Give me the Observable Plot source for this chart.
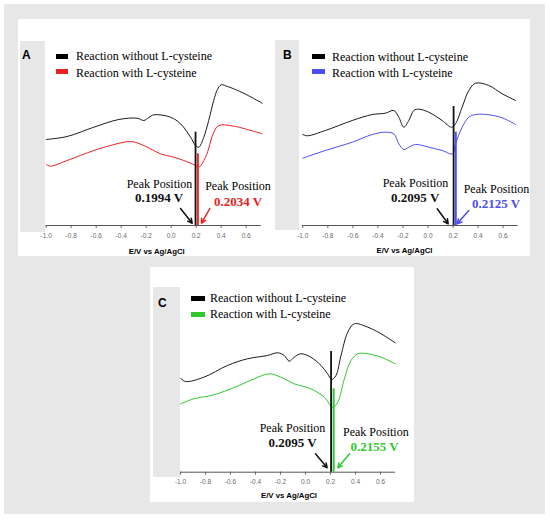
<!DOCTYPE html>
<html><head><meta charset="utf-8">
<script src="https://cdn.jsdelivr.net/npm/d3@7"></script>
<script src="https://cdn.jsdelivr.net/npm/@observablehq/plot@0.6"></script>
<style>
body{margin:0;background:#fff;}
#fig{position:relative;width:550px;height:520px;background:#fff;overflow:hidden;}
.abs{position:absolute;}
.plot svg{overflow:visible;}
.lg{position:absolute;font-family:"Liberation Serif","Times New Roman",serif;font-size:12px;line-height:12px;color:#000;white-space:nowrap;}
.let{position:absolute;font-family:"Liberation Sans",Arial,sans-serif;font-weight:bold;font-size:12px;line-height:12px;color:#000;}
</style>
</head><body>
<div id="fig"></div>
<script>
// ---------- data ----------
const xTicks = [-1.0, -0.8, -0.6, -0.4, -0.2, 0.0, 0.2, 0.4, 0.6];
const seriesLabels = ["Reaction without L-cysteine", "Reaction with L-cysteine"];
const axisLabel = "E/V vs Ag/AgCl";
const peakLabel = "Peak Position";
const panelLetters = ["A", "B", "C"];

// Panel A (current, a.u. above baseline)
const aBlackX = [-1.0, -0.832, -0.619, -0.419, -0.272, -0.219, -0.179, -0.139, -0.005, 0.075, 0.155, 0.195, 0.221, 0.26, 0.30, 0.34, 0.37, 0.40, 0.45, 0.50, 0.60, 0.728];
const aBlackY = [86, 89, 98.3, 106, 107.3, 105, 108, 110.7, 108.3, 101.7, 88.3, 80, 78.3, 88, 105, 125, 136, 140.7, 139, 136.7, 131, 122.3];
const aRedX = [-1.0, -0.966, -0.832, -0.619, -0.485, -0.325, -0.219, -0.085, 0.021, 0.101, 0.195, 0.221, 0.275, 0.341, 0.381, 0.501, 0.728];
const aRedY = [61, 59.3, 65, 75, 80, 84, 80, 71.7, 68.3, 65, 60, 58.3, 68.3, 93.3, 100, 99.3, 91.7];
const aPeaks = [0.1994, 0.2034];
const aPeakTop = [93.3, 71.7];

// Panel B
const bBlackX = [-1.0, -0.965, -0.82, -0.605, -0.445, -0.34, -0.273, -0.233, -0.193, -0.153, -0.113, -0.073, 0.006, 0.113, 0.188, 0.22, 0.273, 0.326, 0.38, 0.486, 0.593, 0.7];
const bBlackY = [91, 89.7, 95, 105, 111, 112.3, 115, 108.3, 98.3, 105, 115, 116.3, 113.3, 105, 98.3, 101.7, 118.3, 135, 142.3, 140, 131.7, 125];
const bBlueX = [-1.0, -0.82, -0.605, -0.445, -0.34, -0.273, -0.233, -0.193, -0.153, -0.1, 0.006, 0.113, 0.196, 0.22, 0.273, 0.326, 0.38, 0.486, 0.593, 0.7];
const bBlueY = [67.3, 75, 83.3, 91, 93.3, 91.7, 81.7, 76, 78.3, 81, 78.3, 75, 71.7, 81.7, 98.3, 108.3, 111, 110.7, 107.7, 101];
const bPeaks = [0.2095, 0.2125];
const bPeakTop = [119, 93.3];

// Panel C
const cBlackX = [-1.0, -0.96, -0.813, -0.625, -0.465, -0.304, -0.224, -0.17, -0.13, -0.09, -0.037, 0.043, 0.124, 0.177, 0.209, 0.244, 0.284, 0.338, 0.39, 0.498, 0.605, 0.718];
const cBlackY = [94, 90.7, 95, 106.7, 113.4, 116.7, 119.4, 116.7, 111, 115, 118.4, 115, 106.7, 98.4, 92.7, 96.7, 116.7, 140, 148.4, 145, 138.4, 129.4];
const cGreenX = [-1.0, -0.893, -0.733, -0.545, -0.411, -0.291, -0.197, -0.09, 0.043, 0.15, 0.218, 0.258, 0.311, 0.364, 0.418, 0.498, 0.605, 0.718];
const cGreenY = [68.4, 73.4, 77.4, 86, 93.4, 98.4, 95, 88.4, 83.4, 75, 65, 70, 93.4, 111.7, 118.4, 118.4, 115, 108.4];
const cPeaks = [0.2095, 0.2155];
const cPeakTop = [120.7, 83.4];

// ---------- layout helpers ----------
const fig = document.getElementById("fig");
function box(l, t, w, h, bg) {
  const d = document.createElement("div");
  d.className = "abs";
  Object.assign(d.style, {left: l + "px", top: t + "px", width: w + "px", height: h + "px", background: bg});
  fig.appendChild(d);
}
function txt(cls, l, baseline, s, off) {
  const d = document.createElement("div");
  d.className = cls;
  d.textContent = s;
  d.style.left = l + "px";
  d.style.top = (baseline - off) + "px";
  fig.appendChild(d);
}

const BG = "#e7e7e7";
box(4, 4, 541, 510, BG);
box(18, 19, 512, 237, "#fff");
box(150, 267, 264, 235, "#fff");
box(20, 41, 25, 191, BG);
box(275, 40, 24, 190, BG);
box(153, 287, 27, 190, BG);

function legend(letter, lx, lb, sx, sw, sy, tx, tb, colors) {
  txt("let", lx, lb, letter, 10.2);
  colors.forEach((c, i) => {
    box(sx, sy[i], sw, 5, c);
    txt("lg", tx, tb[i], seriesLabels[i], 10.05);
  });
}

function panel(cfg) {
  const {left, top, width, height, mL, mR, mB, blackX, blackY, colX, colY, color, peaks, peakTop, o, labelDx, labelDy, tickPad} = cfg;
  const H = height - mB;
  const k = (width - mL - mR) / 1.72;
  const black = blackX.map((x, i) => ({x, y: blackY[i]}));
  const col = colX.map((x, i) => ({x, y: colY[i]}));
  const cols = ["#111", color];
  const marks = [
    Plot.ruleY([0], {stroke: "#555", strokeWidth: 1}),
    Plot.line(black, {x: "x", y: "y", stroke: "#1a1a1a", strokeWidth: 1, curve: "catmull-rom"}),
    Plot.line(col, {x: "x", y: "y", stroke: color, strokeWidth: 1, curve: "catmull-rom"}),
    Plot.text([axisLabel], {frameAnchor: "bottom", text: d => d, dx: labelDx, dy: labelDy, lineAnchor: "bottom",
      fontFamily: "Liberation Sans, Arial, sans-serif", fontWeight: "bold", fontSize: 7.8, fill: "#000"})
  ];
  peaks.forEach((p, i) => {
    const oo = o[i];
    marks.push(Plot.ruleX([{x: p, t: peakTop[i]}], {x: "x", y1: 0, y2: "t", stroke: cols[i],
      strokeWidth: i ? 2 : 1.8, dx: i ? 1.2 : -0.6}));
    marks.push(Plot.text([{x: p, t: peakLabel}], {x: "x", text: "t", frameAnchor: "bottom", lineAnchor: "bottom",
      dx: oo.tdx, dy: -oo.ty1, fontFamily: "Liberation Serif, Times New Roman, serif", fontSize: 12, fill: "#000"}));
    marks.push(Plot.text([{x: p, t: p.toFixed(4) + " V"}], {x: "x", text: "t", frameAnchor: "bottom", lineAnchor: "bottom",
      dx: oo.vdx, dy: -oo.ty2, fontFamily: "Liberation Serif, Times New Roman, serif", fontSize: 13, fontWeight: "bold", fill: cols[i]}));
    marks.push(Plot.arrow([{x1: p + oo.a[0] / k, y1: oo.a[1], x2: p + oo.a[2] / k, y2: oo.a[3]}],
      {x1: "x1", y1: "y1", x2: "x2", y2: "y2", stroke: cols[i], strokeWidth: 1.5, headLength: 5, headAngle: 55}));
  });
  const svg = Plot.plot({
    width, height, marginLeft: mL, marginRight: mR, marginTop: 0, marginBottom: mB,
    x: {domain: [-1.0, 0.72], ticks: xTicks, tickFormat: d => d.toFixed(1), tickSize: 3, tickPadding: tickPad, label: null},
    y: {domain: [0, H], axis: null},
    style: {background: "transparent", fontFamily: "Liberation Sans, Arial, sans-serif", fontSize: "6.5px", color: "#6a6a6a", overflow: "visible"},
    marks
  });
  const d = document.createElement("div");
  d.className = "abs plot";
  d.style.left = left + "px";
  d.style.top = top + "px";
  d.style.width = width + "px";
  d.appendChild(svg);
  fig.appendChild(d);
}

const RED = "#e82222", BLUE = "#4d4df0", GREEN = "#30c830";

panel({left: 18, top: 18, width: 255, height: 238, mL: 27.7, mR: 12.3, mB: 31,
  blackX: aBlackX, blackY: aBlackY, colX: aRedX, colY: aRedY, color: RED,
  peaks: aPeaks, peakTop: aPeakTop, labelDx: 3, labelDy: 28.4, tickPad: 5,
  o: [{tdx: -36.6, ty1: 37.7, vdx: -37, ty2: 23.3, a: [-15.6, 17, -3.9, 2.3]},
      {tdx: 41.4, ty1: 35.7, vdx: 41.4, ty2: 20, a: [13.2, 17, 4.9, 2.3]}]});
panel({left: 275, top: 18, width: 255, height: 238, mL: 27.3, mR: 12.4, mB: 31,
  blackX: bBlackX, blackY: bBlackY, colX: bBlueX, colY: bBlueY, color: BLUE,
  peaks: bPeaks, peakTop: bPeakTop, labelDx: -6, labelDy: 27.5, tickPad: 5,
  o: [{tdx: -38.7, ty1: 38.3, vdx: -39, ty2: 23.3, a: [-17, 16.7, -6, 1.7]},
      {tdx: 41.9, ty1: 32.3, vdx: 41.4, ty2: 17.3, a: [14.2, 15, 2.6, 1.7]}]});
panel({left: 150, top: 267, width: 264, height: 235, mL: 30, mR: 19, mB: 30.3,
  blackX: cBlackX, blackY: cBlackY, colX: cGreenX, colY: cGreenY, color: GREEN,
  peaks: cPeaks, peakTop: cPeakTop, labelDx: 1, labelDy: 25.7, tickPad: 4,
  o: [{tdx: -39.2, ty1: 40, vdx: -39.2, ty2: 25, a: [-16.2, 18.4, -4.5, 4.4]},
      {tdx: 43.4, ty1: 36.7, vdx: 42.1, ty2: 21, a: [17.1, 18.4, 5.4, 4.4]}]});

legend(panelLetters[0], 22, 59.5, 56, 12, [53.5, 69], 76, [60, 77.5], ["#000", RED]);
legend(panelLetters[1], 283, 59, 312, 12.5, [54, 68.5], 332, [60.7, 77], ["#000", BLUE]);
legend(panelLetters[2], 158, 307, 191, 14, [295.7, 311.5], 210, [302.3, 318.3], ["#000", GREEN]);
</script>
</body></html>
